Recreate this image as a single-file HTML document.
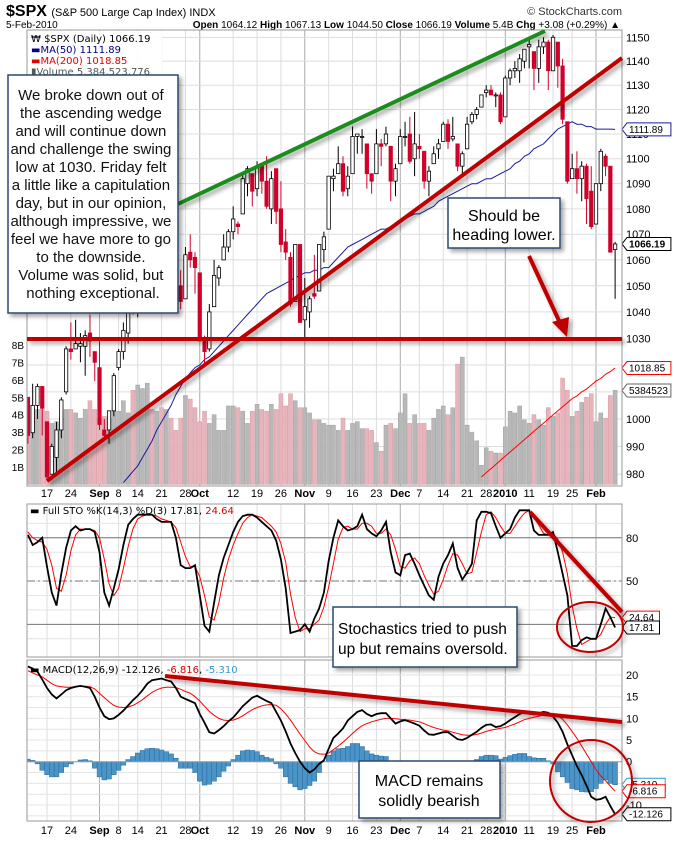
<!DOCTYPE html>
<html><head><meta charset="utf-8"><style>
body{margin:0;background:#fff;}
svg{display:block;font-family:"Liberation Sans",Arial,sans-serif;}
.mono{font-family:"DejaVu Sans","Liberation Sans",sans-serif;}
</style></head><body>
<svg id="c" width="676" height="846" viewBox="0 0 676 846" xmlns="http://www.w3.org/2000/svg">
<defs>
<clipPath id="cpMain"><rect x="27" y="30" width="595" height="456"/></clipPath>
<clipPath id="cpSto"><rect x="27" y="504" width="595" height="153"/></clipPath>
<clipPath id="cpMacd"><rect x="27" y="660" width="595" height="161"/></clipPath>
<filter id="sh" x="-20%" y="-20%" width="150%" height="150%"><feDropShadow dx="3" dy="3" stdDeviation="2" flood-color="#000" flood-opacity="0.35"/></filter>
</defs>
<rect width="676" height="846" fill="#fff"/>
<text x="6" y="16" font-size="16" font-weight="bold">$SPX <tspan font-size="11" font-weight="normal">(S&amp;P 500 Large Cap Index) INDX</tspan></text>
<text x="622" y="15" font-size="11" text-anchor="end" fill="#333">© StockCharts.com</text>
<text x="6" y="28" font-size="10">5-Feb-2010</text>
<text x="620" y="28" font-size="10" text-anchor="end"><tspan font-weight="bold">Open</tspan> 1064.12 <tspan font-weight="bold">High</tspan> 1067.13 <tspan font-weight="bold">Low</tspan> 1044.50 <tspan font-weight="bold">Close</tspan> 1066.19 <tspan font-weight="bold">Volume</tspan> 5.4B <tspan font-weight="bold">Chg</tspan> +3.08 (+0.29%) ▲</text>
<g id="grid"></g>
<g id="vol" clip-path="url(#cpMain)"></g>
<g id="price" clip-path="url(#cpMain)"></g>
<g id="sto" clip-path="url(#cpSto)"></g>
<g id="macd" clip-path="url(#cpMacd)"></g>
<g id="axes"></g>
<rect x="27" y="30" width="595" height="456" fill="none" stroke="#999"/>
<rect x="27" y="504" width="595" height="153" fill="none" stroke="#999"/>
<rect x="27" y="660" width="595" height="161" fill="none" stroke="#999"/>
<g class="mono" font-size="10">
<rect x="28" y="31" width="134" height="46" fill="#fff" opacity="0.9"/>
<text x="31" y="42">₩ $SPX (Daily) 1066.19</text>
<text x="31" y="53" fill="#000080">▬MA(50) 1111.89</text>
<text x="31" y="64" fill="#e00000">▬MA(200) 1018.85</text>
<text x="31" y="75" fill="#555">▮Volume 5,384,523,776</text>
</g>
<text class="mono" x="30" y="514" font-size="10">▬ Full STO %K(14,3) %D(3) 17.81, <tspan fill="#e00000">24.64</tspan></text>
<text class="mono" x="30" y="673" font-size="10">▬ MACD(12,26,9) -12.126, <tspan fill="#e00000">-6.816</tspan>, <tspan fill="#3399cc">-5.310</tspan></text>
<g id="ann"></g>
</svg>
<script>
const opens=[1008,995,1005,1012,999,980,986,996,1010,1026,1026,1027,1027,1032,1025,1019,996,996,1003,1019,1025,1032,1044,1040,1049,1053,1066,1067,1065,1066,1072,1062,1050,1045,1063,1061,1055,1029,1026,1042,1053,1060,1065,1071,1074,1078,1090,1094,1088,1098,1091,1080,1096,1080,1067,1061,1044,1066,1037,1040,1047,1048,1064,1072,1092,1094,1098,1088,1094,1109,1109,1106,1094,1094,1106,1106,1105,1091,1098,1109,1110,1100,1105,1103,1091,1098,1104,1107,1114,1108,1106,1097,1104,1115,1118,1121,1127,1128,1126,1126,1117,1133,1136,1136,1140,1146,1144,1137,1146,1148,1136,1148,1138,1115,1092,1096,1092,1097,1087,1074,1090,1101,1097,1064];
const highs=[1008,1013,1013,1012,999,991,999,1008,1027,1036,1037,1032,1033,1039,1025,1029,1000,1003,1017,1026,1036,1045,1048,1050,1056,1068,1075,1071,1067,1073,1081,1066,1056,1065,1070,1063,1055,1031,1043,1060,1058,1070,1072,1081,1075,1094,1097,1094,1099,1098,1101,1095,1096,1091,1072,1063,1066,1066,1053,1046,1062,1066,1071,1093,1096,1105,1101,1097,1113,1110,1112,1106,1094,1112,1108,1113,1105,1098,1112,1115,1117,1119,1110,1103,1097,1105,1108,1115,1116,1117,1106,1103,1117,1119,1121,1126,1130,1130,1127,1127,1134,1137,1140,1143,1145,1150,1144,1149,1150,1149,1151,1148,1141,1115,1102,1103,1099,1098,1097,1090,1104,1102,1097,1067];
const lows=[991,993,1000,994,978,980,980,993,1009,1022,1026,1021,1016,1023,1014,996,992,991,1001,1018,1022,1028,1039,1038,1044,1053,1062,1064,1057,1065,1060,1045,1041,1045,1057,1047,1029,1020,1025,1042,1050,1060,1063,1068,1070,1078,1085,1081,1085,1086,1080,1074,1074,1063,1060,1042,1044,1036,1030,1034,1045,1048,1059,1072,1087,1094,1085,1085,1094,1102,1102,1088,1086,1094,1097,1105,1083,1085,1098,1105,1098,1093,1100,1088,1085,1098,1100,1107,1104,1107,1095,1094,1104,1114,1116,1121,1125,1126,1121,1114,1117,1130,1133,1131,1137,1137,1128,1131,1143,1128,1136,1129,1114,1090,1092,1086,1083,1074,1072,1074,1087,1093,1063,1045];
const closes=[994,1005,1012,1004,979,990,996,1007,1026,1025,1028,1028,1031,1029,1021,998,994,1003,1016,1025,1033,1044,1042,1049,1053,1068,1065,1068,1064,1071,1061,1050,1044,1062,1060,1057,1029,1025,1040,1054,1057,1065,1071,1076,1073,1092,1096,1087,1097,1091,1081,1092,1079,1066,1063,1043,1066,1036,1042,1045,1046,1066,1069,1093,1093,1098,1087,1093,1109,1110,1109,1094,1091,1106,1105,1110,1091,1096,1109,1109,1099,1106,1104,1091,1095,1102,1106,1114,1107,1109,1097,1102,1114,1118,1120,1126,1128,1126,1126,1115,1133,1136,1137,1141,1145,1147,1137,1146,1148,1136,1150,1138,1116,1091,1096,1092,1097,1084,1073,1090,1103,1097,1063,1066.19];
const volumesB=[4.6,4.4,4.3,4.4,4.2,3.5,3.6,3.8,4.3,4.3,4.1,3.8,4.3,4.8,4.3,3.8,3.9,3.8,4.2,4.2,4.8,4.1,5.4,5.7,5.5,5.8,4.3,4.2,4.4,4.3,3.8,3.1,3.8,5.1,4.9,4.4,3.6,4.2,3.5,4.0,3.1,3.1,4.5,4.5,4.4,4.2,3.5,4.2,4.6,4.3,4.2,4.6,4.3,5.2,4.5,5.2,4.8,4.4,4.4,4.1,3.7,3.7,3.5,3.4,3.4,3.1,3.8,3.1,3.5,3.6,3.2,3.2,3.1,2.4,1.9,3.4,3.5,3.2,4.1,5.2,3.5,4.0,3.5,3.5,3.1,3.8,4.3,4.5,4.0,4.4,6.9,7.3,3.4,3.0,2.5,1.1,2.1,1.9,1.8,1.8,3.3,4.2,4.1,4.5,3.7,3.5,4.0,3.7,3.4,4.4,3.9,4.1,6.1,5.4,3.9,4.2,4.7,5.0,5.2,3.6,4.1,3.8,5.1,5.4];
const ma50=[null,null,null,null,null,null,null,null,null,null,null,null,null,null,null,null,null,null,null,null,977,979,981,983,986,989,992,996,999,1002,1005,1009,1012,1015,1017,1019,1020,1022,1023,1025,1027,1029,1031,1033,1035,1037,1039,1041,1043,1045,1047,1048,1049,1050,1051,1052,1053,1054,1055,1055,1056,1056,1057,1057,1059,1061,1063,1065,1066,1067,1068,1069,1070,1071,1072,1072,1073,1074,1075,1076,1077,1078,1078,1079,1080,1081,1083,1084,1085,1086,1087,1088,1089,1090,1090,1091,1092,1092,1093,1094,1095,1096,1098,1099,1101,1102,1104,1105,1106,1108,1110,1112,1113,1114,1115,1114,1114,1113,1113,1112,1112,1112,1112,1111.89];
const ma200Start=95;
const ma200=[979,980.5,982,983.5,985,986.5,988,989.5,991,992.5,994,995.5,997,998.5,1000,1001.5,1003,1004.5,1006,1007.5,1008.5,1010,1011,1012.5,1014,1015,1016.5,1017.5,1018.85];
const stoK=[82,75,77,80,60,42,33,55,73,85,88,85,86,86,84,70,42,33,45,58,75,89,93,96,96,96,96,93,91,91,91,80,61,59,59,61,40,19,15,35,54,66,75,84,91,95,96,96,94,91,88,85,78,65,45,14,15,16,20,15,24,31,42,64,80,92,88,85,86,88,96,86,83,81,85,91,70,56,54,68,69,62,54,47,40,37,53,62,68,76,59,51,56,62,92,98,98,97,88,80,83,86,94,99,99,99,85,82,82,82,84,70,55,40,5,5,9,11,10,10,20,31,25,17.81];
const stoD=[84,80,78,77,72,61,45,43,54,71,82,86,86,86,85,80,65,48,40,45,59,74,86,93,95,96,96,95,93,92,91,87,77,67,60,60,53,40,25,23,35,52,65,75,83,90,94,96,95,94,91,88,84,76,63,41,25,15,17,17,20,23,32,46,62,79,87,88,86,86,90,90,88,83,83,86,82,72,60,59,64,66,62,54,47,41,43,51,61,69,68,62,55,56,70,84,96,98,94,88,83,83,88,93,97,99,94,89,83,82,83,79,70,55,33,17,6,8,10,10,13,20,25,24.64];
const macdLine=[22,21.5,20.8,19,17,15.5,14.6,15.5,16.5,17,17.3,17.5,17.3,17,15,12.5,10.5,9.8,10,10.8,11.8,13,14.2,15.2,16.5,18,18.8,19,19.2,18.8,18.5,17,15,14.5,14,13.5,11,9,6.8,6.5,7.3,8.2,9.3,10.2,11.5,12.8,13.8,14.8,15.2,14.6,14,13.5,11.5,9.5,7,4.2,2,0,-1.5,-2.5,-1.8,-0.5,0.3,3,5.5,6.5,7.7,9.5,10.5,11.5,11.9,11,10.5,11,11.2,11.2,10,8.8,9.3,9.6,9.2,8.8,8.3,7.2,6.3,6.2,6.5,6.8,6.8,6,5.2,5,5.5,6.2,6.9,7.8,8.5,8.6,8,8.2,8.8,9.6,10.3,11,11.5,11.1,10.9,11.2,11.5,11.3,10.4,9,6.9,4,1.5,-1,-3.1,-5.5,-8.1,-8.8,-8.6,-8.1,-10.2,-12.126];
const signalLine=[21,20.5,20,19.6,18.8,18,17.5,17.3,17.2,17.2,17.3,17.4,17.4,17.3,16.8,15.8,14.8,13.8,13,12.6,12.5,12.6,13,13.6,14.3,15.2,16,16.6,17,17.2,17.2,17.1,16.7,16.2,15.8,15,14,12.8,11.6,10.7,10,9.6,9.5,9.6,10,10.6,11.3,12,12.5,12.9,13.1,13.2,13,12.2,11,9.6,8,6.4,4.9,3.4,2.3,1.8,1.7,2,2.8,3.6,4.5,5.5,6.5,7.5,8.3,8.8,9.2,9.5,9.8,10,10,9.9,9.8,9.7,9.6,9.4,9.2,8.8,8.3,7.9,7.6,7.3,7.1,6.8,6.5,6.2,6.1,6.1,6.3,6.6,7,7.3,7.5,7.7,7.9,8.3,8.7,9.2,9.7,10,10.3,10.5,10.8,11,11,10.6,9.8,8.5,7,5.4,3.6,1.8,0,-1.8,-3.3,-4.4,-5.6,-6.816];
const histogram=[0.6,0.3,-0.5,-2,-3,-3.5,-3.5,-2.5,-1.2,-0.5,0,0.4,0.5,0.2,-1.5,-3.5,-4.2,-4,-3,-2,-0.8,0.5,1.2,2,2.6,3,3.1,3,2.7,2.3,1.8,0.8,-1.5,-1.5,-1.5,-2.5,-4.5,-5.4,-5.2,-4.5,-3.5,-2.2,-1,0.5,1.5,2.5,2.7,2.6,2.3,1.5,1,0.7,-0.5,-1.5,-3.5,-5,-5.8,-6.5,-6.2,-5.5,-4.5,-2.5,0,1.5,2.5,3,3.1,3.5,4.2,4.2,3.5,2.5,1.8,1.5,1.3,1.2,0.2,0.1,0.1,0.1,0.1,0.1,0.1,0.1,0.1,0.1,0.1,0.1,0.1,0.1,0.1,0.1,0.1,0.1,0.5,1.2,1.5,1.5,1.4,0.6,1,1.4,1.7,1.9,1.9,1.2,0.9,0.8,0.8,0.2,-0.5,-2.3,-3.5,-4.8,-6.2,-6.5,-6.9,-7,-6.9,-6.2,-5,-4.2,-5,-5.31];
const dateLabels=["17","24","Sep","8","14","21","28","Oct","12","19","26","Nov","9","16","23","Dec","7","14","21","28","2010","11","19","25","Feb"];
const dateIdx=[4,9,15,19,23,28,33,36,43,48,53,58,63,68,73,78,82,87,92,96,100,105,110,114,119];
const monthLabels=["Sep","Oct","Nov","Dec","2010","Feb"];
const priceTicks=[980,990,1000,1030,1040,1050,1060,1070,1080,1090,1100,1110,1120,1130,1140,1150];
const priceGrid=[980,990,1000,1010,1020,1030,1040,1050,1060,1070,1080,1090,1100,1110,1120,1130,1140,1150];
const volTicks=[1,2,3,4,5,6,7,8];
const stoTicks=[80,50];
const stoLines=[80,20];
const macdTicks=[20,15,10,5,0,-10];

const NS="http://www.w3.org/2000/svg";
function mk(tag,attrs,parent){const e=document.createElementNS(NS,tag);for(const k in attrs)e.setAttribute(k,attrs[k]);if(parent)parent.appendChild(e);return e;}
const xOf=j=>47+(j-4)*4.774;
const yP=p=>338.3-2731*Math.log(p/1030);
const yV=v=>484.4-v*17.43;
const yS=s=>653.2-s*1.443;
const yM=m=>761.7-m*4.333;
const grid=document.getElementById('grid'),axes=document.getElementById('axes');

dateIdx.forEach((j,k)=>{
  const isM=monthLabels.includes(dateLabels[k]);
  [[30,486],[504,657],[660,821]].forEach(r=>{
    const l=mk('line',{x1:xOf(j),x2:xOf(j),y1:r[0],y2:r[1],stroke:isM?'#aaa':'#ddd','stroke-width':1},grid);
    
    
  });
  [493,830].forEach(y=>{
    const t=mk('text',{x:xOf(j),y:y+4,'font-size':11,'text-anchor':'middle','font-weight':isM?'bold':'normal'},axes);
    t.textContent=dateLabels[k];
    
    
  });
});
priceGrid.forEach(p=>{
  const l=mk('line',{x1:27,x2:622,y1:yP(p),y2:yP(p),stroke:'#ddd'},grid);
  
  
});
priceTicks.forEach(p=>{
  const t=mk('text',{x:626,y:yP(p)+4,'font-size':11},axes);t.textContent=p;
  
  
});
volTicks.forEach(v=>{
  const t=mk('text',{x:24,y:yV(v)+4,'font-size':10,'text-anchor':'end'},axes);t.textContent=v+'B';
  
  
});
for(let s=10;s<=90;s+=10){const l=mk('line',{x1:27,x2:622,y1:yS(s),y2:yS(s),stroke:'#e4e4e4'},grid);
  }
stoLines.forEach(s=>{const l=mk('line',{x1:27,x2:622,y1:yS(s),y2:yS(s),stroke:'#777'},grid);
  });
{const l=mk('line',{x1:27,x2:622,y1:yS(50),y2:yS(50),stroke:'#777','stroke-dasharray':'8,3,2,3'},grid);
  }
stoTicks.forEach(s=>{const t=mk('text',{x:626,y:yS(s)+4,'font-size':11},axes);t.textContent=s;
  });
for(let m=-12.5;m<=20;m+=2.5){const l=mk('line',{x1:27,x2:622,y1:yM(m),y2:yM(m),stroke:'#e4e4e4'},grid);
  }
macdTicks.forEach(m=>{const t=mk('text',{x:626,y:yM(m)+4,'font-size':11},axes);t.textContent=m;
  });

const vg=document.getElementById('vol');
volumesB.forEach((v,j)=>{
  const down=closes[j]<opens[j];
  const r=mk('rect',{x:xOf(j)-2,y:yV(v),width:4,height:484.4-yV(v),fill:down?'#e8b4bc':'#b8b8b8',stroke:down?'#d59aa3':'#a0a0a0','stroke-width':0.5},vg);
  
  
});
const pg=document.getElementById('price');
function poly(vals,off,fx,fy,attrs,parent,name){let pts=[];vals.forEach((v,i)=>{if(v!==null)pts.push(fx(i+off).toFixed(1)+','+fy(v).toFixed(1));});
  const p=mk('polyline',Object.assign({points:pts.join(' '),fill:'none'},attrs),parent);
  return p;}
poly(ma200,ma200Start,xOf,yP,{stroke:'#ff0000','stroke-width':1},pg,'ma200-line');
poly(ma50,0,xOf,yP,{stroke:'#1a1aa0','stroke-width':1},pg,'ma50-line');
closes.forEach((c,j)=>{
  const o=opens[j],x=xOf(j),down=c<o;
  const w=mk('line',{x1:x,x2:x,y1:yP(highs[j]),y2:yP(lows[j]),stroke:down?'#d0002a':'#000','stroke-width':1},pg);
  
  const top=yP(Math.max(o,c)),bot=yP(Math.min(o,c));
  const b=mk('rect',{x:x-1.7,y:top,width:3.4,height:Math.max(1,bot-top),fill:down?'#d0002a':'#fff',stroke:down?'#d0002a':'#000','stroke-width':0.8},pg);
  
});
const sg=document.getElementById('sto');
poly(stoD,0,xOf,yS,{stroke:'#ff0000','stroke-width':1},sg,'sto-d-line');
poly(stoK,0,xOf,yS,{stroke:'#000','stroke-width':1.8},sg,'sto-k-line');
const mg=document.getElementById('macd');
histogram.forEach((h,j)=>{
  const y0=yM(0),y1=yM(h);
  const r=mk('rect',{x:xOf(j)-2.4,y:Math.min(y0,y1),width:4.8,height:Math.abs(y1-y0),fill:'#4a94c8',stroke:'#2a6a9a','stroke-width':0.5},mg);
  
});
{const l=mk('line',{x1:27,x2:622,y1:yM(0),y2:yM(0),stroke:'#999'},mg);}
poly(signalLine,0,xOf,yM,{stroke:'#ff0000','stroke-width':1},mg,'macd-signal-line');
poly(macdLine,0,xOf,yM,{stroke:'#000','stroke-width':1.8},mg,'macd-line');

function tag(x,y,txt,col,bold,name){
  const g=mk('g',{},axes);
  
  const w=txt.length*5.7+4;
  mk('path',{d:`M${x},${y} l5,-6.5 h${w} v13 h-${w} z`,fill:'#fff',stroke:col,'stroke-width':1},g);
  const t=mk('text',{x:x+7,y:y+3.5,'font-size':10,'font-weight':bold?'bold':'normal',fill:'#000'},g);t.textContent=txt;
}
tag(622,yP(1111.89),'1111.89','#1a1aa0',false,'ma50-value-tag');
tag(622,yP(1066.19),'1066.19','#000',true,'last-price-tag');
tag(622,yP(1018.85),'1018.85','#ff0000',false,'ma200-value-tag');
tag(622,yV(5.3845),'5384523','#666',false,'volume-value-tag');
tag(622,yS(24.64),'24.64','#ff0000',false,'sto-d-value-tag');
tag(622,yS(17.81),'17.81','#000',false,'sto-k-value-tag');
tag(622,yM(-5.31),'-5.310','#3399cc',false,'macd-hist-value-tag');
tag(622,yM(-6.816),'-6.816','#ff0000',false,'macd-signal-value-tag');
tag(622,yM(-12.126),'-12.126','#000',false,'macd-value-tag');
</script>
<script>
(function(){
const a=document.getElementById('ann');
a.innerHTML=`
<g filter="url(#sh)">
<line x1="178" y1="204" x2="545" y2="31" stroke="#1a8c1a" stroke-width="4"/>
<line x1="47" y1="481" x2="622" y2="58" stroke="#c00000" stroke-width="4"/>
<line x1="27" y1="339" x2="622" y2="339" stroke="#c00000" stroke-width="4"/>
<line x1="530" y1="512" x2="622" y2="612" stroke="#c00000" stroke-width="4"/>
<line x1="165" y1="676" x2="622" y2="722" stroke="#c00000" stroke-width="4"/>
<line x1="529" y1="256" x2="561" y2="325" stroke="#c00000" stroke-width="4"/>
<polygon points="567,337 552,322 569,317" fill="#c00000"/>
<ellipse cx="590" cy="627" rx="33" ry="25" fill="none" stroke="#c00000" stroke-width="2"/>
<ellipse cx="591" cy="781" rx="41" ry="41" fill="none" stroke="#c00000" stroke-width="2"/>
</g>
<g>
<rect x="8" y="75" width="170" height="238" fill="#fff" stroke="#2c4a6e" stroke-width="1.5" filter="url(#sh)"/>
<text x="93" y="100" font-size="15" text-anchor="middle" fill="#111">
<tspan x="93" dy="0">We broke down out of</tspan>
<tspan x="93" dy="18">the ascending wedge</tspan>
<tspan x="93" dy="18">and will continue down</tspan>
<tspan x="93" dy="18">and challenge the swing</tspan>
<tspan x="93" dy="18">low at 1030.  Friday felt</tspan>
<tspan x="93" dy="18">a little like a capitulation</tspan>
<tspan x="93" dy="18">day, but in our opinion,</tspan>
<tspan x="93" dy="18">although impressive, we</tspan>
<tspan x="93" dy="18">feel we have more to go</tspan>
<tspan x="93" dy="18">to the downside.</tspan>
<tspan x="93" dy="18">Volume was solid, but</tspan>
<tspan x="93" dy="18">nothing exceptional.</tspan>
</text></g>
<g>
<rect x="448" y="198" width="112" height="50" fill="#fff" stroke="#2c4a6e" stroke-width="1.5" filter="url(#sh)"/>
<text x="504" y="221" font-size="16" text-anchor="middle"><tspan x="504">Should be</tspan><tspan x="504" dy="19">heading lower.</tspan></text>
</g>
<g>
<rect x="333" y="607" width="184" height="60" fill="#fff" stroke="#2c4a6e" stroke-width="1.5" filter="url(#sh)"/>
<text x="338" y="634" font-size="15.5"><tspan x="338">Stochastics tried to push</tspan><tspan x="338" dy="20">up but remains oversold.</tspan></text>
</g>
<g>
<rect x="359" y="761" width="141" height="57" fill="#fff" stroke="#2c4a6e" stroke-width="1.5" filter="url(#sh)"/>
<text x="429" y="786" font-size="16" text-anchor="middle"><tspan x="429">MACD remains</tspan><tspan x="429" dy="20">solidly bearish</tspan></text>
</g>`;
})();
</script>
</body></html>
